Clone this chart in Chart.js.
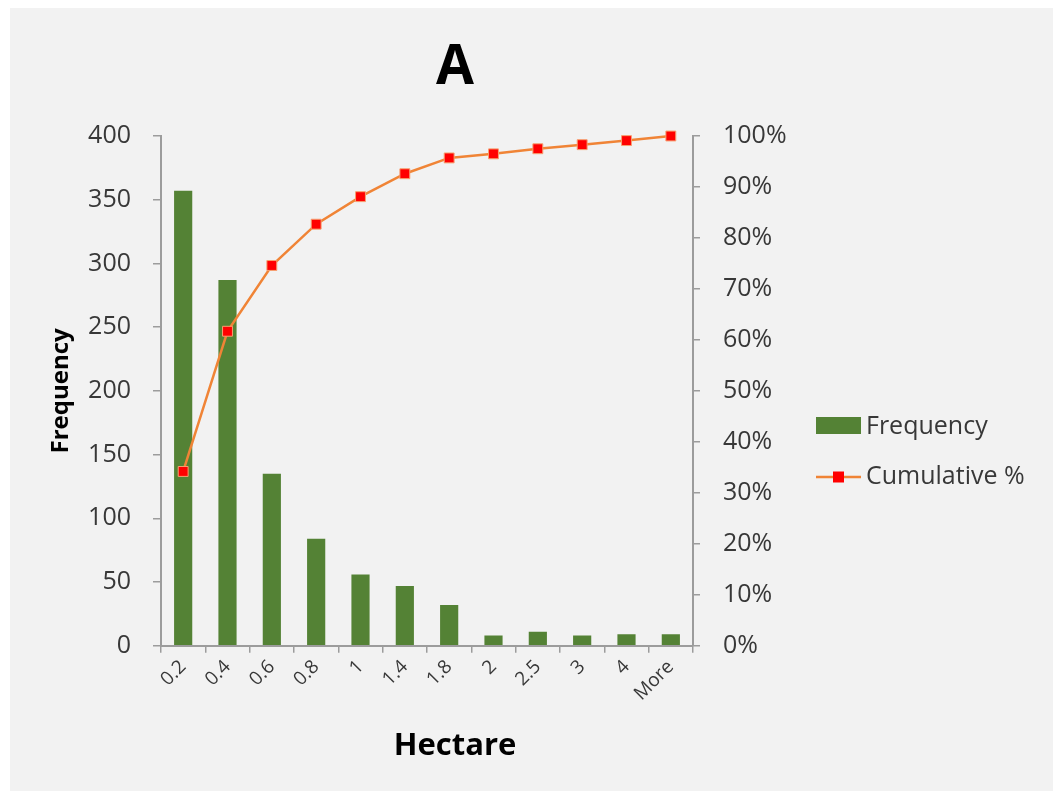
<!DOCTYPE html>
<html>
<head>
<meta charset="utf-8">
<script src="https://cdn.jsdelivr.net/npm/chart.js@4/dist/chart.umd.min.js"></script>
<style>
  html, body { margin: 0; padding: 0; background: #ffffff; }
  #panel { position: absolute; left: 10px; top: 8px; width: 1043px; height: 783px; background: #f2f2f2; }
  canvas { display: block; }
</style>
</head>
<body>
<div id="panel"><canvas id="chart" width="1043" height="783"></canvas></div>
<script>
// Plot-size classes (hectares) and how many plots fall in each
const categories = ['0.2', '0.4', '0.6', '0.8', '1', '1.4', '1.8', '2', '2.5', '3', '4', 'More'];
const frequency = [357, 287, 135, 84, 56, 47, 32, 8, 11, 8, 9, 9];
const cumulativePct = [34.2, 61.7, 74.6, 82.7, 88.1, 92.6, 95.7, 96.5, 97.5, 98.3, 99.1, 100];

const FONT = '"Open Sans", "Liberation Sans", sans-serif';
const GREEN = '#548235';
const ORANGE = '#f08436';
const RED = '#ff0000';
const AXIS = '#9c9c9c';
const TICK_TEXT = '#383838';

// Legend on the right: filled box for the bars, line with square marker for the cumulative curve
const sideLegend = {
  id: 'sideLegend',
  afterDraw(chart) {
    const ctx = chart.ctx;
    ctx.save();
    ctx.font = '25px ' + FONT;
    ctx.textBaseline = 'alphabetic';
    ctx.textAlign = 'left';

    const bar = chart.data.datasets[1];
    ctx.fillStyle = bar.backgroundColor;
    ctx.fillRect(806, 409, 45, 17);
    ctx.fillStyle = TICK_TEXT;
    ctx.fillText(bar.label, 856, 426);

    const line = chart.data.datasets[0];
    ctx.strokeStyle = line.borderColor;
    ctx.lineWidth = 2.5;
    ctx.beginPath();
    ctx.moveTo(806, 469);
    ctx.lineTo(851, 469);
    ctx.stroke();
    ctx.fillStyle = line.pointBackgroundColor;
    ctx.fillRect(823, 463.5, 11, 11);
    ctx.fillStyle = TICK_TEXT;
    ctx.fillText(line.label, 856, 476);
    ctx.restore();
  }
};

new Chart(document.getElementById('chart'), {
  type: 'bar',
  data: {
    labels: categories,
    datasets: [
      {
        type: 'line',
        label: 'Cumulative %',
        data: cumulativePct,
        yAxisID: 'y1',
        borderColor: ORANGE,
        borderWidth: 2.5,
        pointStyle: 'rect',
        pointRadius: 7,
        pointBackgroundColor: RED,
        pointBorderColor: '#f7a070',
        pointBorderWidth: 1,
        tension: 0,
        clip: false,
        order: 0
      },
      {
        type: 'bar',
        label: 'Frequency',
        data: frequency,
        yAxisID: 'y',
        backgroundColor: GREEN,
        categoryPercentage: 1,
        barPercentage: 0.41,
        order: 1
      }
    ]
  },
  options: {
    responsive: false,
    animation: false,
    layout: { padding: { left: 0, right: 153, top: 0, bottom: 0 } },
    plugins: {
      legend: { display: false },
      tooltip: { enabled: false },
      title: {
        display: true,
        text: 'A',
        color: '#000000',
        font: { family: FONT, size: 55, weight: 'bold', lineHeight: 1.2 },
        padding: { top: 27, bottom: 35 }
      },
      subtitle: {
        display: true,
        position: 'bottom',
        text: 'Hectare',
        color: '#000000',
        font: { family: FONT, size: 31, weight: 'bold', lineHeight: 1.2 },
        padding: { top: 0, bottom: 26 }
      }
    },
    scales: {
      x: {
        offset: true,
        afterFit(scale) { scale.height = 82; },
        grid: { display: true, drawOnChartArea: false, drawTicks: true, tickLength: 7, color: AXIS, lineWidth: 1.5, offset: true },
        border: { display: true, color: AXIS, width: 2 },
        ticks: {
          color: TICK_TEXT,
          font: { family: FONT, size: 19 },
          minRotation: 45,
          maxRotation: 45,
          padding: 3,
          autoSkip: false
        }
      },
      y: {
        position: 'left',
        min: 0,
        max: 400,
        afterFit(scale) { scale.width = 151; },
        grid: { display: true, drawOnChartArea: false, drawTicks: true, tickLength: 8, color: AXIS, lineWidth: 1.5 },
        border: { display: true, color: AXIS, width: 2 },
        ticks: { stepSize: 50, color: TICK_TEXT, font: { family: FONT, size: 25 }, padding: 22 },
        title: {
          display: true,
          text: 'Frequency',
          color: '#000000',
          font: { family: FONT, size: 24, weight: 'bold', lineHeight: 1.2 },
          padding: { top: 37, bottom: 0 }
        }
      },
      y1: {
        position: 'right',
        min: 0,
        max: 100,
        afterFit(scale) { scale.width = 207; },
        grid: { display: true, drawOnChartArea: false, drawTicks: true, tickLength: 7, color: AXIS, lineWidth: 1.5 },
        border: { display: true, color: AXIS, width: 2 },
        ticks: {
          stepSize: 10,
          color: TICK_TEXT,
          font: { family: FONT, size: 25 },
          padding: 23,
          callback: (v) => v + '%'
        }
      }
    }
  },
  plugins: [sideLegend]
});
</script>
</body>
</html>
